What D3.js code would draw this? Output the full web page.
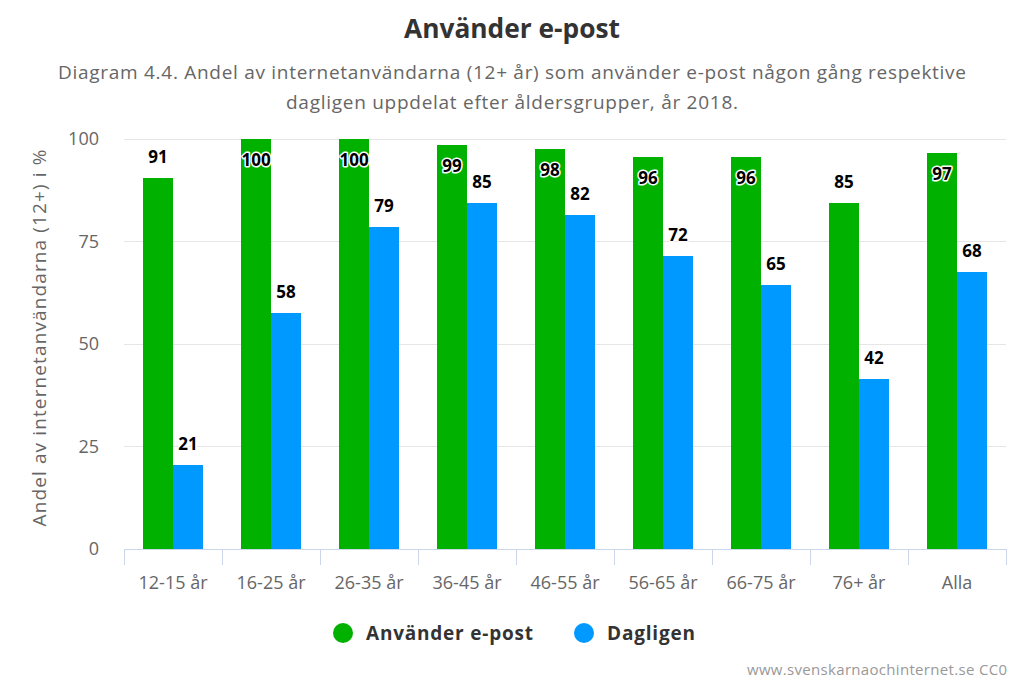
<!DOCTYPE html>
<html>
<head>
<meta charset="utf-8">
<script src="https://cdn.jsdelivr.net/npm/d3@7"></script>
<style>
  html, body { margin: 0; padding: 0; background: #fff; }
  svg { display: block; font-family: "Open Sans", "Noto Sans", sans-serif; }
</style>
</head>
<body>
<svg id="chart" width="1024" height="683"></svg>
<script>
const categories = ["12-15 år", "16-25 år", "26-35 år", "36-45 år", "46-55 år", "56-65 år", "66-75 år", "76+ år", "Alla"];
const seriesNames = ["Använder e-post", "Dagligen"];
const anvanderEpost = [90.5, 100, 100, 98.5, 97.5, 95.5, 95.5, 84.5, 96.5];
const dagligen = [20.5, 57.5, 78.5, 84.5, 81.5, 71.5, 64.5, 41.5, 67.5];
const yTicks = [0, 25, 50, 75, 100];
const colors = ["#00b100", "#0099ff"];

const titleText = "Använder e-post";
const subtitleLines = [
  "Diagram 4.4. Andel av internetanvändarna (12+ år) som använder e-post någon gång respektive",
  "dagligen uppdelat efter åldersgrupper, år 2018."
];
const yAxisTitle = "Andel av internetanvändarna (12+) i %";
const creditText = "www.svenskarnaochinternet.se CC0";

const svg = d3.select("#chart");
const W = 1024, H = 683;
const plot = { left: 124, right: 1006, top: 139, bottom: 549 };

// Title & subtitle
svg.append("text").attr("x", W / 2).attr("y", 38).attr("text-anchor", "middle")
  .attr("font-size", 26).attr("font-weight", 700).attr("fill", "#333")
  .attr("textLength", 216).attr("lengthAdjust", "spacingAndGlyphs").text(titleText);
const subLens = [908, 452];
subtitleLines.forEach((s, i) => {
  svg.append("text").attr("x", W / 2).attr("y", 79 + i * 30).attr("text-anchor", "middle")
    .attr("font-size", 19).attr("fill", "#666")
    .attr("textLength", subLens[i]).attr("lengthAdjust", "spacing").text(s);
});

const y = d3.scaleLinear().domain([0, 100]).range([plot.bottom, plot.top]);
const x0 = d3.scaleBand().domain(categories).range([plot.left, plot.right]).padding(0);
const bw = x0.bandwidth();
const x1 = d3.scaleBand().domain(seriesNames).range([bw * 0.195, bw * 0.805]).padding(0);

// gridlines
const grid = svg.append("g");
yTicks.filter(t => t > 0).forEach(t => {
  grid.append("line").attr("x1", plot.left).attr("x2", plot.right)
    .attr("y1", y(t)).attr("y2", y(t)).attr("stroke", "#e6e6e6").attr("stroke-width", 1)
    .attr("shape-rendering", "crispEdges");
});

// y axis labels
const yAxis = d3.axisLeft(y).tickValues(yTicks).tickSize(0).tickPadding(25);
const yg = svg.append("g").attr("transform", `translate(${plot.left},0)`).call(yAxis);
yg.select(".domain").remove();
yg.selectAll("text").attr("font-size", 18).attr("fill", "#666").attr("font-family", "Open Sans, sans-serif");

// y axis title
svg.append("text").attr("transform", `translate(46,${(plot.top + plot.bottom) / 2 - 6}) rotate(-90)`)
  .attr("text-anchor", "middle").attr("font-size", 19).attr("fill", "#666")
  .attr("textLength", 377).attr("lengthAdjust", "spacing").text(yAxisTitle);

// bars
const data = categories.map((c, i) => ({ cat: c, vals: [anvanderEpost[i], dagligen[i]] }));
const groups = svg.append("g").selectAll("g").data(data).join("g")
  .attr("transform", d => `translate(${x0(d.cat)},0)`);
groups.selectAll("rect").data(d => d.vals.map((v, j) => ({ v, s: seriesNames[j], j })))
  .join("rect")
  .attr("x", d => x1(d.s)).attr("width", x1.bandwidth())
  .attr("y", d => y(d.v)).attr("height", d => y(0) - y(d.v))
  .attr("fill", d => colors[d.j]).attr("shape-rendering", "crispEdges");

// x axis
const xAxis = d3.axisBottom(x0).tickSize(0).tickPadding(27);
const xg = svg.append("g").attr("transform", `translate(0,${plot.bottom})`).call(xAxis);
xg.select(".domain").attr("stroke", "#ccd6eb");
xg.selectAll("text").attr("font-size", 18).attr("fill", "#666").attr("font-family", "Open Sans, sans-serif");
const bounds = categories.map(c => x0(c)).concat([plot.right]);
xg.selectAll(".bound").data(bounds).join("line").attr("class", "bound")
  .attr("x1", d => d).attr("x2", d => d).attr("y1", 0).attr("y2", 16)
  .attr("stroke", "#ccd6eb").attr("stroke-width", 1).attr("shape-rendering", "crispEdges");

// data labels
const labels = svg.append("g");
data.forEach(d => {
  d.vals.forEach((v, j) => {
    const cx = x0(d.cat) + x1(seriesNames[j]) + x1.bandwidth() / 2;
    const top = y(v);
    let cy = top - 21;
    if (cy - 10 < plot.top) cy = top + 21;
    labels.append("text").attr("x", cx).attr("y", cy).attr("dy", "0.35em")
      .attr("text-anchor", "middle").attr("font-size", 17).attr("font-weight", 700)
      .attr("fill", "#000").attr("stroke", "#fff").attr("stroke-width", 3)
      .attr("stroke-linejoin", "round").attr("paint-order", "stroke")
      .text(Math.round(v));
  });
});

// legend
const legendItems = [{ name: seriesNames[0], cx: 343, len: 167 }, { name: seriesNames[1], cx: 584, len: 88 }];
const lg = svg.append("g");
legendItems.forEach((it, i) => {
  lg.append("circle").attr("cx", it.cx).attr("cy", 633).attr("r", 10).attr("fill", colors[i]);
  lg.append("text").attr("x", it.cx + 23).attr("y", 640).attr("font-size", 19)
    .attr("font-weight", 700).attr("fill", "#333")
    .attr("textLength", it.len).attr("lengthAdjust", "spacing").text(it.name);
});

// credits
svg.append("text").attr("x", 1007).attr("y", 675).attr("text-anchor", "end")
  .attr("font-size", 15).attr("fill", "#999")
  .attr("textLength", 260).attr("lengthAdjust", "spacing").text(creditText);
</script>
</body>
</html>
